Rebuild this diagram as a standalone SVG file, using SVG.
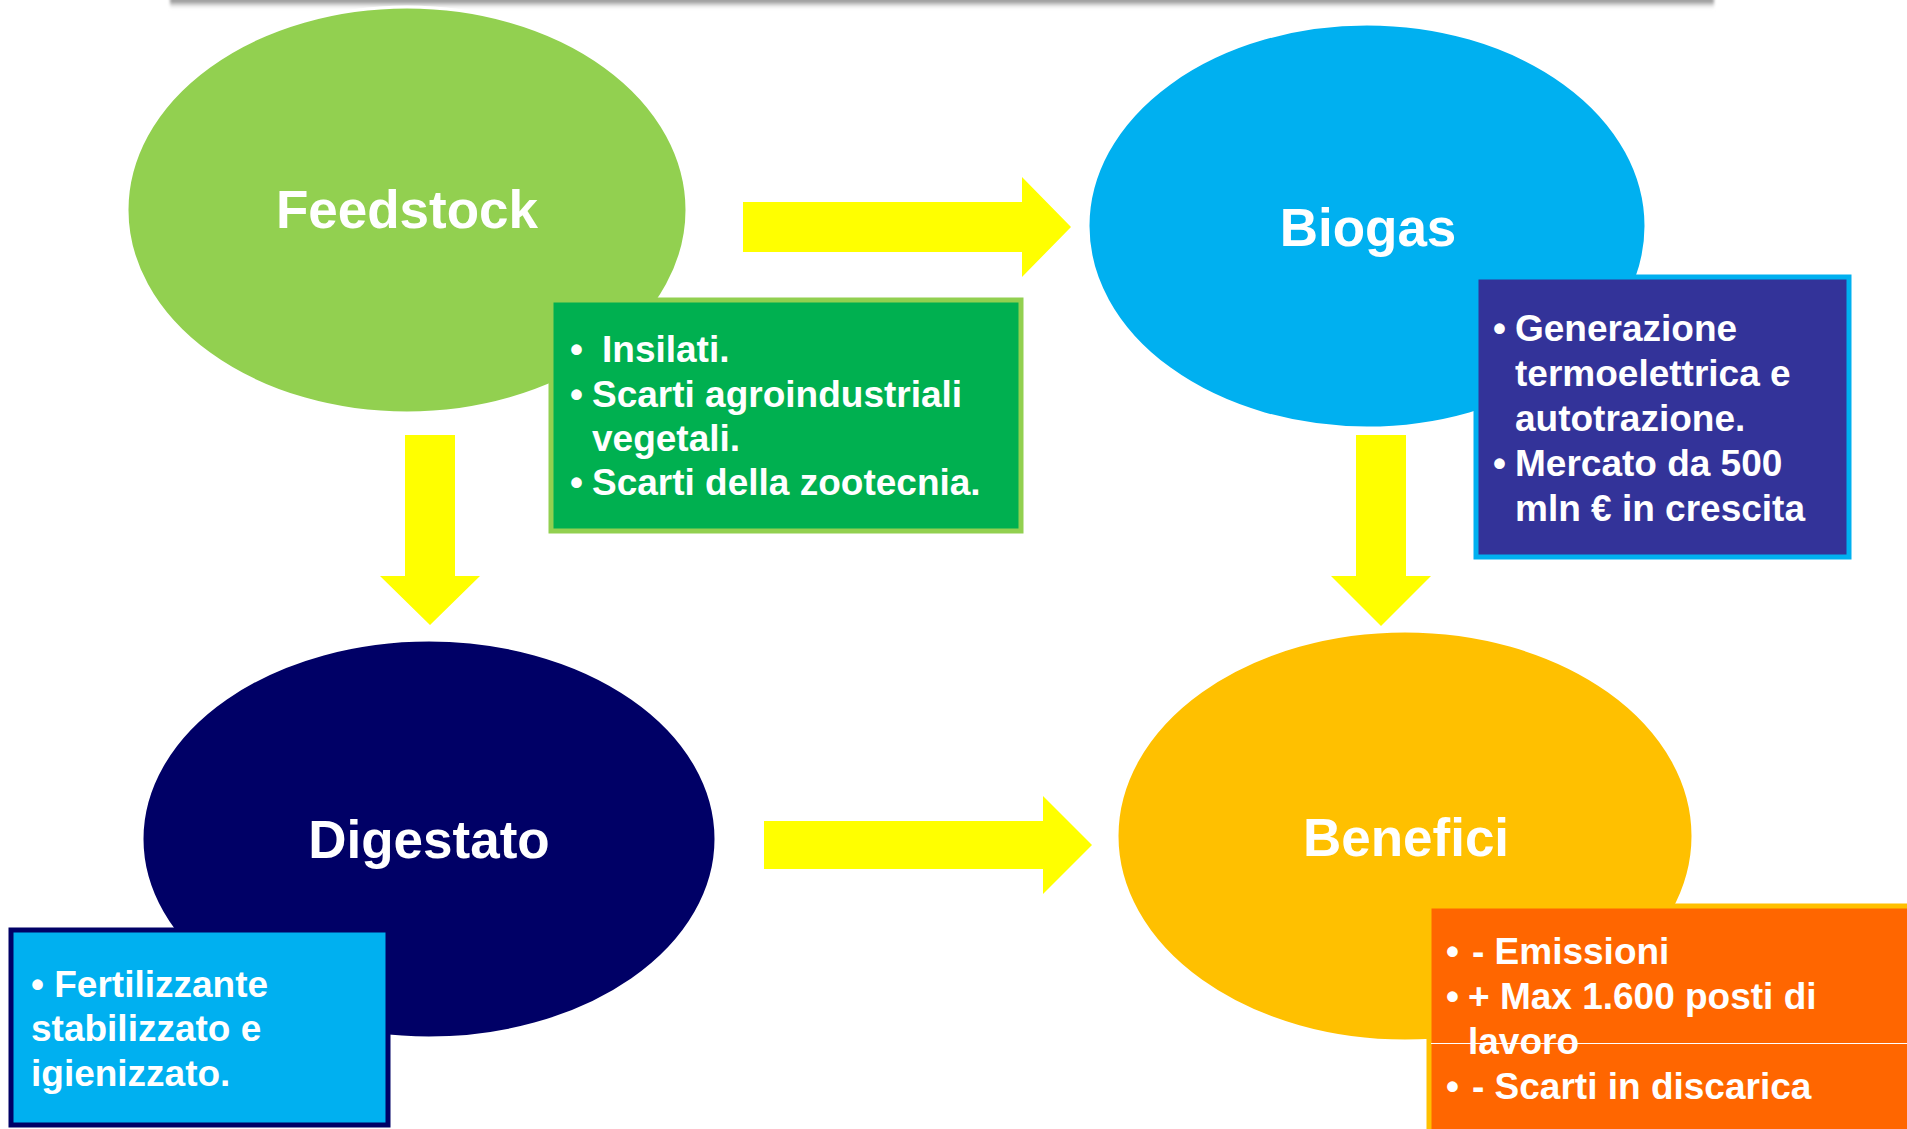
<svg xmlns="http://www.w3.org/2000/svg" width="1907" height="1129" viewBox="0 0 1907 1129">
  <defs>
    <linearGradient id="barShade" x1="0" y1="0" x2="0" y2="1">
      <stop offset="0" stop-color="#8c8c8c"/>
      <stop offset="0.35" stop-color="#a6a6a6"/>
      <stop offset="1" stop-color="#ffffff" stop-opacity="0"/>
    </linearGradient>
    <filter id="soft" x="-2%" y="-100%" width="104%" height="300%">
      <feGaussianBlur stdDeviation="1.5"/>
    </filter>
  </defs>
  <style>
    .hub { stroke: #ffffff; stroke-width: 3; }
    .hub-label { font-family: "Liberation Sans", Arial, sans-serif; font-weight: bold; font-size: 53px; fill: #ffffff; text-anchor: middle; }
    .note { font-family: "Liberation Sans", Arial, sans-serif; font-weight: bold; font-size: 37px; fill: #ffffff; }
    .arrow { fill: #ffff00; }
  </style>

  <!-- shaded bar along the top edge -->
  <g id="top-bar">
    <rect x="170" y="-2" width="1544" height="12" fill="url(#barShade)" filter="url(#soft)"/>
  </g>

  <!-- block arrows -->
  <g id="connectors">
    <polygon class="arrow" points="743,202 1022,202 1022,177 1071,227 1022,277 1022,252 743,252"/>
    <polygon class="arrow" points="405,435 455,435 455,576 480,576 430,625 380,576 405,576"/>
    <polygon class="arrow" points="1356,435 1406,435 1406,576 1431,576 1381,626 1331,576 1356,576"/>
    <polygon class="arrow" points="764,821 1043,821 1043,796 1092,845 1043,894 1043,869 764,869"/>
  </g>

  <!-- Feedstock -->
  <g id="node-feedstock">
    <ellipse class="hub" cx="407" cy="210" rx="280" ry="203" fill="#92d050"/>
    <text class="hub-label" x="407" y="228">Feedstock</text>
  </g>

  <!-- Biogas -->
  <g id="node-biogas">
    <ellipse class="hub" cx="1367" cy="226" rx="279" ry="202" fill="#00b0f0"/>
    <text class="hub-label" x="1368" y="246">Biogas</text>
  </g>

  <!-- Digestato -->
  <g id="node-digestato">
    <ellipse class="hub" cx="429" cy="839" rx="287" ry="199" fill="#000066"/>
    <text class="hub-label" x="429" y="858">Digestato</text>
  </g>

  <!-- Benefici -->
  <g id="node-benefici">
    <ellipse class="hub" cx="1405" cy="836" rx="288" ry="205" fill="#ffc000"/>
    <text class="hub-label" x="1406" y="856">Benefici</text>
  </g>

  <!-- Feedstock detail box -->
  <g id="box-feedstock">
    <rect x="551" y="300" width="470" height="231" fill="#00b050" stroke="#92d050" stroke-width="5"/>
    <text class="note" x="570" y="362">•</text>
    <text class="note" x="602" y="362">Insilati.</text>
    <text class="note" x="570" y="407">•</text>
    <text class="note" x="592" y="407">Scarti agroindustriali</text>
    <text class="note" x="592" y="451">vegetali.</text>
    <text class="note" x="570" y="495">•</text>
    <text class="note" x="592" y="495">Scarti della zootecnia.</text>
  </g>

  <!-- Biogas detail box -->
  <g id="box-biogas">
    <rect x="1476" y="277" width="373" height="280" fill="#333399" stroke="#00b0f0" stroke-width="5"/>
    <text class="note" x="1493" y="341">•</text>
    <text class="note" x="1515" y="341">Generazione</text>
    <text class="note" x="1515" y="386">termoelettrica e</text>
    <text class="note" x="1515" y="431">autotrazione.</text>
    <text class="note" x="1493" y="476">•</text>
    <text class="note" x="1515" y="476">Mercato da 500</text>
    <text class="note" x="1515" y="521">mln € in crescita</text>
  </g>

  <!-- Digestato detail box -->
  <g id="box-digestato">
    <rect x="11" y="930" width="377" height="195" fill="#00b0f0" stroke="#000066" stroke-width="5"/>
    <text class="note" x="31" y="997">• Fertilizzante</text>
    <text class="note" x="31" y="1041">stabilizzato e</text>
    <text class="note" x="31" y="1086">igienizzato.</text>
  </g>

  <!-- Benefici detail box -->
  <g id="box-benefici">
    <rect x="1429" y="906" width="490" height="240" fill="#ff6600" stroke="#ffc000" stroke-width="5"/>
    <line x1="1431" y1="1043.5" x2="1907" y2="1043.5" stroke="#ffffff" stroke-width="1"/>
    <text class="note" x="1446" y="964">•</text>
    <text class="note" x="1472" y="964">- Emissioni</text>
    <text class="note" x="1446" y="1009">•</text>
    <text class="note" x="1468" y="1009">+ Max 1.600 posti di</text>
    <text class="note" x="1468" y="1054">lavoro</text>
    <text class="note" x="1446" y="1099">•</text>
    <text class="note" x="1472" y="1099">- Scarti in discarica</text>
  </g>
</svg>
